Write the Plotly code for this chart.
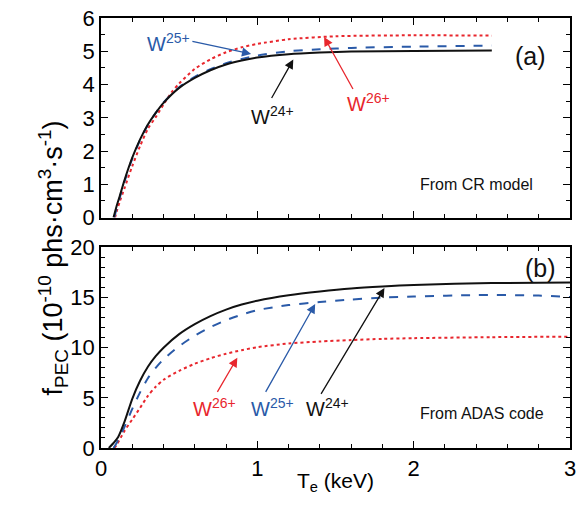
import plotly.graph_objects as go
from plotly.subplots import make_subplots

# Photon emissivity coefficients vs electron temperature (keV)
# (a) collisional-radiative model
cr_w24_te = [0.08, 0.10, 0.12, 0.15, 0.20, 0.25, 0.30, 0.35, 0.40, 0.50, 0.60, 0.70, 0.80, 0.90, 1.00, 1.20, 1.40, 1.60, 2.00, 2.50]
cr_w24_f = [0.0, 0.35, 0.65, 1.12, 1.80, 2.35, 2.80, 3.15, 3.45, 3.90, 4.20, 4.43, 4.60, 4.72, 4.81, 4.91, 4.96, 4.99, 5.01, 5.02]
cr_w25_te = [0.085, 0.10, 0.12, 0.15, 0.20, 0.25, 0.30, 0.35, 0.40, 0.50, 0.60, 0.70, 0.80, 0.90, 1.00, 1.20, 1.40, 1.60, 2.00, 2.50]
cr_w25_f = [0.0, 0.28, 0.60, 1.08, 1.77, 2.33, 2.79, 3.15, 3.46, 3.92, 4.23, 4.46, 4.64, 4.77, 4.87, 5.00, 5.06, 5.10, 5.14, 5.17]
cr_w26_te = [0.09, 0.10, 0.12, 0.15, 0.20, 0.25, 0.30, 0.35, 0.40, 0.45, 0.50, 0.60, 0.70, 0.80, 0.90, 1.00, 1.20, 1.50, 2.00, 2.50]
cr_w26_f = [0.0, 0.18, 0.48, 0.88, 1.55, 2.15, 2.67, 3.02, 3.40, 3.76, 4.03, 4.47, 4.76, 4.97, 5.12, 5.22, 5.36, 5.45, 5.48, 5.47]

# (b) ADAS code
adas_w24_te = [0.05, 0.08, 0.11, 0.15, 0.20, 0.25, 0.30, 0.35, 0.40, 0.50, 0.60, 0.70, 0.80, 0.90, 1.00, 1.20, 1.40, 1.60, 1.80, 2.00, 2.50, 3.00]
adas_w24_f = [0.0, 0.5, 1.1, 2.6, 4.9, 6.7, 8.1, 9.15, 10.0, 11.35, 12.35, 13.15, 13.8, 14.3, 14.68, 15.22, 15.6, 15.9, 16.1, 16.25, 16.45, 16.5]
adas_w25_te = [0.08, 0.10, 0.14, 0.20, 0.25, 0.30, 0.35, 0.40, 0.50, 0.60, 0.70, 0.80, 0.90, 1.00, 1.20, 1.40, 1.60, 1.80, 2.00, 2.40, 2.80, 3.00]
adas_w25_f = [0.0, 0.5, 1.75, 3.9, 5.55, 6.95, 8.0, 8.85, 10.15, 11.2, 12.05, 12.75, 13.3, 13.75, 14.25, 14.55, 14.8, 15.0, 15.1, 15.25, 15.2, 15.05]
adas_w26_te = [0.085, 0.10, 0.15, 0.20, 0.25, 0.30, 0.35, 0.40, 0.50, 0.60, 0.70, 0.80, 0.90, 1.00, 1.20, 1.40, 1.60, 1.80, 2.00, 2.50, 3.00]
adas_w26_f = [0.0, 0.3, 1.7, 2.85, 4.0, 5.2, 6.1, 6.8, 7.7, 8.4, 8.95, 9.4, 9.75, 10.05, 10.42, 10.62, 10.76, 10.88, 10.95, 11.05, 11.1]

BLACK = "#111111"
BLUE = "#2a5aa8"
RED = "#e8262d"
FONT = "Arial, Liberation Sans, sans-serif"

fig = make_subplots(rows=2, cols=1, vertical_spacing=0.069)

def add_series(row, te, f, color, dash):
    fig.add_trace(go.Scatter(x=te, y=f, mode="lines",
                             line=dict(color=color, width=2, dash=dash, shape="spline", smoothing=0.7),
                             showlegend=False, hoverinfo="skip"), row=row, col=1)

add_series(1, cr_w26_te, cr_w26_f, RED, "dot")
add_series(1, cr_w25_te, cr_w25_f, BLUE, "dash")
add_series(1, cr_w24_te, cr_w24_f, BLACK, "solid")
add_series(2, adas_w26_te, adas_w26_f, RED, "dot")
add_series(2, adas_w25_te, adas_w25_f, BLUE, "dash")
add_series(2, adas_w24_te, adas_w24_f, BLACK, "solid")

axis_common = dict(showline=True, linecolor="black", linewidth=1.5, mirror="allticks", ticks="inside",
                   tickcolor="black", tickwidth=1.2, ticklen=7, showgrid=False, zeroline=False,
                   tickfont=dict(family=FONT, size=22, color="black"))

fig.update_xaxes(range=[0, 3], dtick=1, tick0=0,
                 minor=dict(dtick=0.2, ticks="inside", ticklen=4, tickcolor="black", tickwidth=1), **axis_common)
fig.update_xaxes(showticklabels=False, row=1, col=1)
fig.update_yaxes(range=[0, 6], dtick=1, tick0=0,
                 minor=dict(dtick=0.5, ticks="inside", ticklen=4, tickcolor="black", tickwidth=1),
                 row=1, col=1, **axis_common)
fig.update_yaxes(range=[0, 20], dtick=5, tick0=0,
                 minor=dict(dtick=1, ticks="inside", ticklen=4, tickcolor="black", tickwidth=1),
                 row=2, col=1, **axis_common)

ann = []

def label(x, y, text, color, size, xref="x", yref="y"):
    ann.append(dict(x=x, y=y, xref=xref, yref=yref, text=text, showarrow=False,
                    font=dict(family=FONT, size=size, color=color)))

def arrow(x0, y0, x1, y1, color, xref="x", yref="y"):
    ann.append(dict(x=x1, y=y1, ax=x0, ay=y0, xref=xref, yref=yref, axref=xref, ayref=yref,
                    text="", showarrow=True, arrowhead=2, arrowsize=1.4, arrowwidth=1.3, arrowcolor=color))

# panel (a)
label(0.43, 5.25, "W<sup>25+</sup>", BLUE, 20)
arrow(0.575, 5.31, 0.96, 4.92, BLUE)
label(1.10, 3.07, "W<sup>24+</sup>", BLACK, 20)
arrow(1.086, 3.55, 1.23, 4.75, BLACK)
label(1.71, 3.46, "W<sup>26+</sup>", RED, 20)
arrow(1.617, 3.82, 1.427, 5.43, RED)
label(2.75, 4.87, "(a)", BLACK, 25)
label(2.40, 1.01, "From CR model", BLACK, 16)

# panel (b)
label(0.726, 4.06, "W<sup>26+</sup>", RED, 20, "x2", "y2")
arrow(0.739, 5.45, 0.872, 9.0, RED, "x2", "y2")
label(1.10, 4.06, "W<sup>25+</sup>", BLUE, 20, "x2", "y2")
arrow(1.048, 5.45, 1.37, 14.36, BLUE, "x2", "y2")
label(1.446, 4.06, "W<sup>24+</sup>", BLACK, 20, "x2", "y2")
arrow(1.402, 5.25, 1.813, 15.94, BLACK, "x2", "y2")
label(2.81, 17.9, "(b)", BLACK, 25, "x2", "y2")
label(2.44, 3.47, "From ADAS code", BLACK, 16, "x2", "y2")

# axis titles
ann.append(dict(x=-0.147, y=0.441, xref="paper", yref="paper", textangle=-90, showarrow=False,
                text="f<sub>PEC</sub> (10<sup>-10</sup> phs·cm<sup>3</sup>·s<sup>-1</sup>)",
                font=dict(family=FONT, size=27, color="black")))
ann.append(dict(x=0.501, y=-0.113, xref="paper", yref="paper", showarrow=False,
                text="T<sub>e</sub> (keV)", font=dict(family=FONT, size=21, color="black")))

fig.update_layout(width=582, height=513, margin=dict(l=101, r=6, t=15, b=65),
                  plot_bgcolor="white", paper_bgcolor="white", annotations=ann,
                  font=dict(family=FONT, color="black"))
fig.update_layout(yaxis=dict(domain=[0.5358, 1.0]), yaxis2=dict(domain=[0.0, 0.4665]))

fig.write_html("out.html")
